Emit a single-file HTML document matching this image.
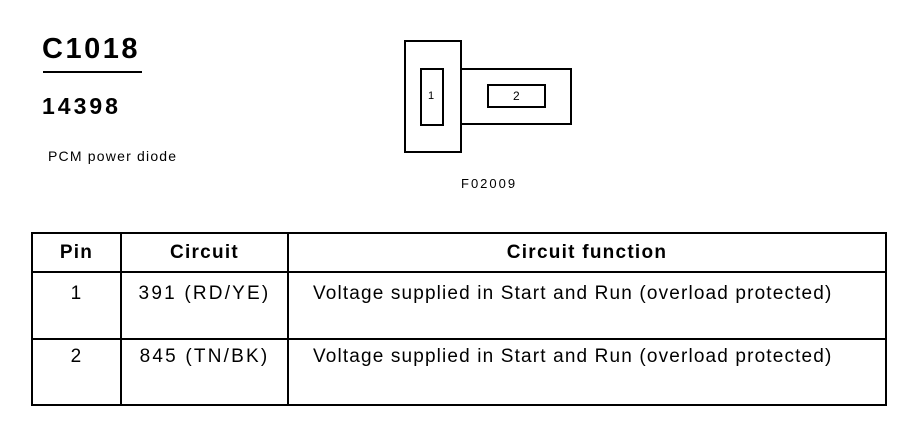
<!DOCTYPE html>
<html><head><style>
body{margin:0;width:906px;height:432px;background:#fff;position:relative;font-family:"Liberation Sans",Arial,sans-serif;color:#000;overflow:hidden}
.a{position:absolute;white-space:nowrap}
.b{position:absolute;border:2px solid #000;box-sizing:border-box}
table{position:absolute;left:31px;top:232px;width:856px;border-collapse:collapse}
td{border:2px solid #000;font-size:19px;vertical-align:top;padding:0;letter-spacing:1.15px}
th{border:2px solid #000;font-size:19px;height:37px;padding:0;letter-spacing:1.25px}
</style></head><body>
<div class="a" style="left:42px;top:33px;font-size:29px;font-weight:bold;letter-spacing:2.5px">C1018</div>
<div class="a" style="left:43px;top:71px;width:99px;height:2px;background:#000"></div>
<div class="a" style="left:42px;top:93px;font-size:23px;font-weight:bold;letter-spacing:3px">14398</div>
<div class="a" style="left:48px;top:148px;font-size:14px;letter-spacing:1.2px">PCM power diode</div>
<div class="b" style="left:404px;top:40px;width:58px;height:113px"></div>
<div class="b" style="left:420px;top:68px;width:24px;height:58px"></div>
<div class="a" style="left:428px;top:90px;font-size:11px">1</div>
<div class="b" style="left:460px;top:68px;width:112px;height:57px;border-left:none"></div>
<div class="b" style="left:487px;top:84px;width:59px;height:24px"></div>
<div class="a" style="left:513px;top:89px;font-size:12px">2</div>
<div class="a" style="left:461px;top:176px;font-size:13px;letter-spacing:2px">F02009</div>
<table>
<tr><th style="width:87px">Pin</th><th style="width:165px">Circuit</th><th>Circuit function</th></tr>
<tr style="height:67px"><td style="text-align:center;padding-top:10px">1</td><td style="text-align:center;padding-top:10px;letter-spacing:2.2px">391 (RD/YE)</td><td style="padding:10px 0 0 24px">Voltage supplied in Start and Run (overload protected)</td></tr>
<tr style="height:66px"><td style="text-align:center;padding-top:6px">2</td><td style="text-align:center;padding-top:6px;letter-spacing:2.2px">845 (TN/BK)</td><td style="padding:6px 0 0 24px">Voltage supplied in Start and Run (overload protected)</td></tr>
</table>
</body></html>
